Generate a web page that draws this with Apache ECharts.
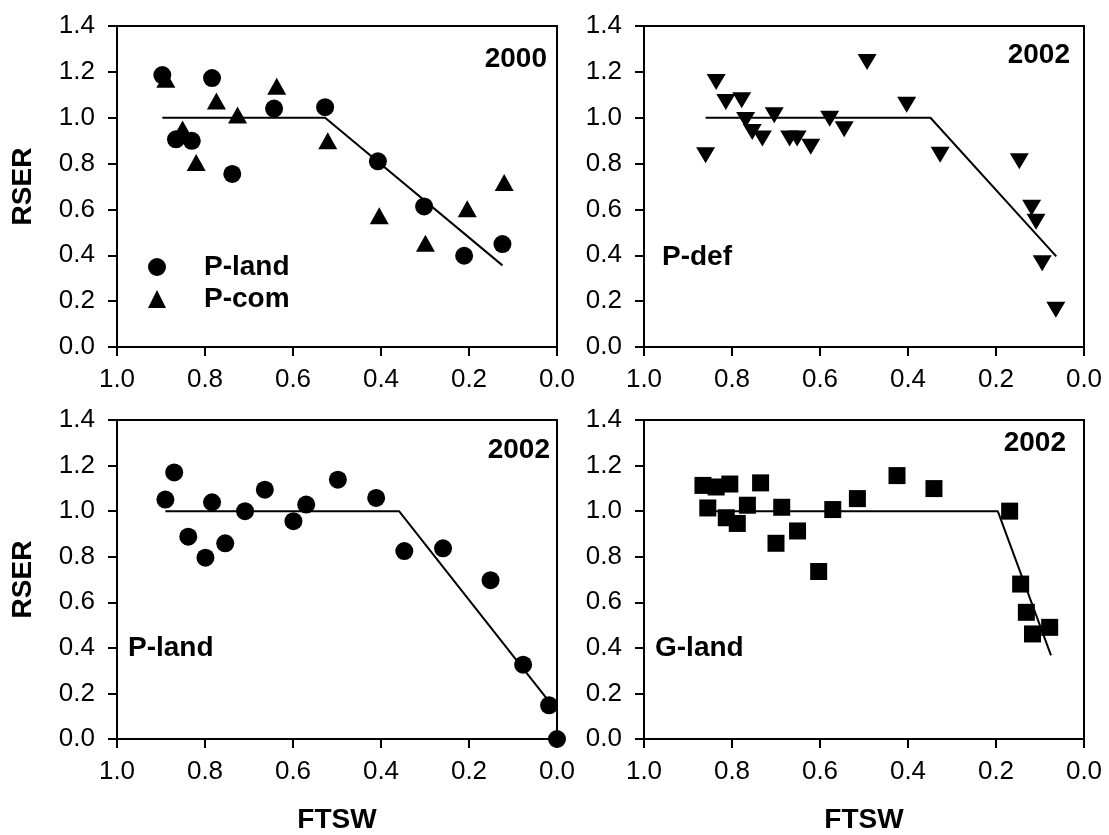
<!DOCTYPE html>
<html>
<head>
<meta charset="utf-8">
<script src="https://cdn.jsdelivr.net/npm/echarts@6/dist/echarts.min.js"></script>
<style>
html,body{margin:0;padding:0;background:#fff;}
#chart{width:1109px;height:835px;}
</style>
</head>
<body>
<div id="chart"></div>
<script>
// ---- data (FTSW, RSER) ----
const tlLandX = [0.897, 0.866, 0.830, 0.784, 0.738, 0.643, 0.527, 0.407, 0.302, 0.211, 0.124];
const tlLandY = [1.186, 0.906, 0.899, 1.173, 0.755, 1.040, 1.046, 0.810, 0.613, 0.398, 0.449];
const tlComX = [0.889, 0.851, 0.820, 0.774, 0.726, 0.637, 0.521, 0.404, 0.299, 0.204, 0.120];
const tlComY = [1.168, 0.951, 0.805, 1.073, 1.012, 1.137, 0.900, 0.572, 0.452, 0.603, 0.717];
const tlFitX = [0.897, 0.527, 0.124];
const tlFitY = [1.0, 1.0, 0.356];

const trDefX = [0.860, 0.836, 0.814, 0.778, 0.769, 0.754, 0.731, 0.704, 0.669, 0.652, 0.621, 0.578, 0.545, 0.493, 0.403, 0.327, 0.147, 0.119, 0.109, 0.095, 0.064];
const trDefY = [0.836, 1.156, 1.069, 1.076, 0.990, 0.938, 0.909, 1.011, 0.909, 0.909, 0.873, 0.995, 0.950, 1.243, 1.057, 0.839, 0.810, 0.607, 0.546, 0.365, 0.163];
const trFitX = [0.860, 0.349, 0.063];
const trFitY = [1.0, 1.0, 0.395];

const blLandX = [0.890, 0.870, 0.838, 0.799, 0.784, 0.754, 0.709, 0.664, 0.599, 0.570, 0.498, 0.411, 0.347, 0.259, 0.151, 0.077, 0.018, 0.0];
const blLandY = [1.051, 1.170, 0.888, 0.796, 1.039, 0.859, 1.000, 1.094, 0.956, 1.029, 1.138, 1.058, 0.825, 0.837, 0.697, 0.326, 0.148, 0.0];
const blFitX = [0.890, 0.359, 0.016];
const blFitY = [1.0, 1.0, 0.16];

const brGlandX = [0.866, 0.836, 0.805, 0.855, 0.813, 0.788, 0.765, 0.735, 0.700, 0.687, 0.651, 0.603, 0.571, 0.515, 0.425, 0.341, 0.169, 0.144, 0.131, 0.117, 0.078];
const brGlandY = [1.113, 1.106, 1.119, 1.014, 0.971, 0.946, 1.026, 1.124, 0.859, 1.017, 0.913, 0.735, 1.007, 1.055, 1.156, 1.099, 1.000, 0.680, 0.556, 0.461, 0.490];
const brFitX = [0.856, 0.196, 0.075];
const brFitY = [1.0, 1.0, 0.367];

const xTickMin = 0, xTickMax = 1.0, xTickStep = 0.2;
const yTickMin = 0, yTickMax = 1.4, yTickStep = 0.2;
const xName = 'FTSW', yName = 'RSER';

// ---- helpers ----
const zip = (xs, ys) => xs.map((x, i) => [x, ys[i]]);
const FONT = "'Liberation Sans', Arial, sans-serif";

const grids = [
  {left: 117, top: 26, width: 440, height: 321},
  {left: 644, top: 26, width: 440, height: 321},
  {left: 117, top: 420, width: 440, height: 321},
  {left: 644, top: 420, width: 440, height: 321}
].map(g => Object.assign(g, {show: true, borderColor: '#000', borderWidth: 2, containLabel: false}));

function xAxis(i, showName) {
  return {
    type: 'value', gridIndex: i, inverse: true,
    min: xTickMin, max: xTickMax, interval: xTickStep,
    splitLine: {show: false},
    axisLine: {show: true, onZero: false, lineStyle: {color: '#000', width: 2}},
    axisTick: {show: true, inside: false, length: 9, lineStyle: {color: '#000', width: 2}},
    axisLabel: {margin: 20, color: '#000', fontSize: 26, fontFamily: FONT,
      formatter: v => v.toFixed(1)},
    name: showName ? xName : '', nameLocation: 'middle', nameGap: 67,
    nameTextStyle: {color: '#000', fontSize: 28, fontWeight: 'bold', fontFamily: FONT}
  };
}
function yAxis(i, showName) {
  return {
    type: 'value', gridIndex: i,
    min: yTickMin, max: yTickMax, interval: yTickStep,
    splitLine: {show: false},
    axisLine: {show: true, onZero: false, lineStyle: {color: '#000', width: 2}},
    axisTick: {show: true, inside: false, length: 9, lineStyle: {color: '#000', width: 2}},
    axisLabel: {margin: 22, color: '#000', fontSize: 26, fontFamily: FONT,
      formatter: v => v.toFixed(1)},
    name: showName ? yName : '', nameLocation: 'middle', nameGap: 80, nameRotate: 90,
    nameTextStyle: {color: '#000', fontSize: 28, fontWeight: 'bold', fontFamily: FONT}
  };
}

function fit(i, xs, ys) {
  return {type: 'line', xAxisIndex: i, yAxisIndex: i, data: zip(xs, ys),
    symbol: 'none', silent: true, z: 2,
    lineStyle: {color: '#000', width: 2}};
}
function pts(i, name, xs, ys, symbol, size, rotate) {
  return {type: 'scatter', name: name, xAxisIndex: i, yAxisIndex: i, data: zip(xs, ys),
    symbol: symbol, symbolSize: size, symbolRotate: rotate || 0, z: 3,
    itemStyle: {color: '#000', opacity: 1}};
}

function txt(x, y, s, align) {
  return {type: 'text', x: x, y: y, z: 10,
    style: {text: s, font: "bold 28px " + FONT, fill: '#000',
      align: align, verticalAlign: 'middle'}};
}

const option = {
  backgroundColor: '#fff',
  animation: false,
  grid: grids,
  xAxis: [xAxis(0, false), xAxis(1, false), xAxis(2, true), xAxis(3, true)],
  yAxis: [yAxis(0, true), yAxis(1, false), yAxis(2, true), yAxis(3, false)],
  legend: {
    show: true, orient: 'vertical', left: 148, top: 253, padding: 0,
    itemWidth: 18, itemHeight: 18, itemGap: 4,
    data: [{name: 'P-land', icon: 'circle'}, {name: 'P-com', icon: 'triangle'}],
    textStyle: {color: '#000', fontSize: 28, fontWeight: 'bold', fontFamily: FONT,
      lineHeight: 27, padding: [0, 0, 0, 33]},
    selectedMode: false
  },
  series: [
    fit(0, tlFitX, tlFitY),
    pts(0, 'P-land', tlLandX, tlLandY, 'circle', 18),
    pts(0, 'P-com', tlComX, tlComY, 'triangle', [19, 17]),
    fit(1, trFitX, trFitY),
    pts(1, 'P-def', trDefX, trDefY, 'triangle', [19, 16], 180),
    fit(2, blFitX, blFitY),
    pts(2, 'P-land 2002', blLandX, blLandY, 'circle', 18),
    fit(3, brFitX, brFitY),
    pts(3, 'G-land', brGlandX, brGlandY, 'rect', 17)
  ],
  graphic: [
    txt(547, 59, '2000', 'right'),
    txt(1070, 55, '2002', 'right'),
    txt(550, 450, '2002', 'right'),
    txt(1066, 443, '2002', 'right'),
    txt(662, 257, 'P-def', 'left'),
    txt(128, 648, 'P-land', 'left'),
    txt(655, 648, 'G-land', 'left')
  ]
};

const chart = echarts.init(document.getElementById('chart'), null, {renderer: 'canvas'});
chart.setOption(option);
</script>
</body>
</html>
